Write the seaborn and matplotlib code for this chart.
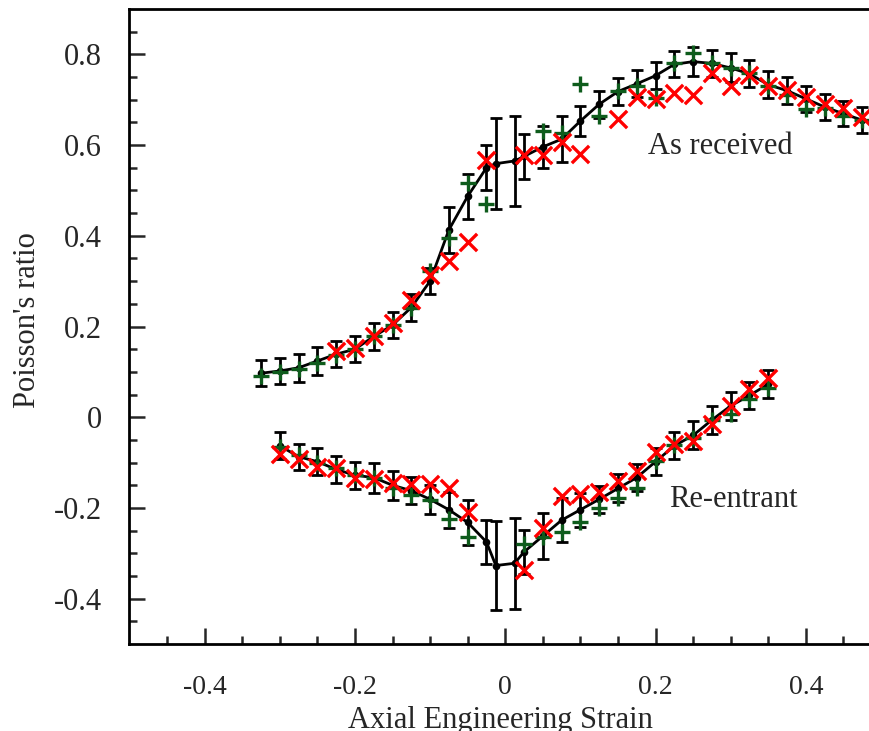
import numpy as np
import pandas as pd
import matplotlib
matplotlib.use('Agg')
import matplotlib.pyplot as plt
import seaborn as sns

# ---- As received ----
ar_x = [-0.325, -0.3, -0.275, -0.25, -0.225, -0.2, -0.175, -0.15, -0.125, -0.1, -0.075, -0.05,
        -0.025, -0.0125, 0.0125, 0.025, 0.05, 0.075, 0.1, 0.125, 0.15, 0.175, 0.2, 0.225, 0.25,
        0.275, 0.3, 0.325, 0.35, 0.375, 0.4, 0.425, 0.45, 0.475]
ar_mean = [0.097, 0.102, 0.109, 0.124, 0.139, 0.150, 0.178, 0.203, 0.242, 0.300, 0.413, 0.487,
           0.550, 0.559, 0.565, 0.575, 0.596, 0.613, 0.653, 0.690, 0.718, 0.735, 0.753, 0.778, 0.784,
           0.780, 0.770, 0.757, 0.733, 0.720, 0.702, 0.684, 0.669, 0.655]
ar_err = [0.029, 0.029, 0.031, 0.030, 0.029, 0.029, 0.029, 0.029, 0.029, 0.029, 0.050, 0.050,
          0.050, 0.100, 0.100, 0.050, 0.047, 0.051, 0.033, 0.030, 0.030, 0.030, 0.030, 0.029, 0.032,
          0.030, 0.032, 0.030, 0.030, 0.030, 0.029, 0.029, 0.028, 0.029]

ar_gx = [-0.325, -0.3, -0.275, -0.25, -0.225, -0.2, -0.175, -0.15, -0.125, -0.1, -0.075, -0.05,
         -0.025, 0.05, 0.075, 0.1, 0.125, 0.15, 0.175, 0.2, 0.225, 0.25, 0.275, 0.3, 0.325,
         0.35, 0.375, 0.4, 0.425, 0.45, 0.475]
ar_gy = [0.091, 0.100, 0.107, 0.120, 0.137, 0.150, 0.178, 0.203, 0.240, 0.322, 0.396, 0.517,
         0.471, 0.632, 0.626, 0.735, 0.664, 0.719, 0.730, 0.704, 0.781, 0.803, 0.780, 0.770, 0.758,
         0.731, 0.711, 0.680, 0.682, 0.665, 0.656]

ar_rx = [-0.225, -0.2, -0.175, -0.15, -0.125, -0.1, -0.075, -0.05, -0.025, 0.025, 0.05, 0.075,
         0.1, 0.15, 0.175, 0.2, 0.225, 0.25, 0.275, 0.3, 0.325, 0.35, 0.375, 0.4, 0.425, 0.45, 0.475]
ar_ry = [0.147, 0.152, 0.178, 0.207, 0.258, 0.313, 0.344, 0.386, 0.567, 0.579, 0.577, 0.607,
         0.581, 0.658, 0.706, 0.701, 0.715, 0.711, 0.759, 0.731, 0.755, 0.731, 0.722, 0.706, 0.691,
         0.682, 0.662]

# ---- Re-entrant ----
re_x = [-0.3, -0.275, -0.25, -0.225, -0.2, -0.175, -0.15, -0.125, -0.1, -0.075, -0.05, -0.025,
        -0.0125, 0.0125, 0.025, 0.05, 0.075, 0.1, 0.125, 0.15, 0.175, 0.2, 0.225, 0.25, 0.275,
        0.3, 0.325, 0.35]
re_mean = [-0.063, -0.087, -0.098, -0.115, -0.128, -0.133, -0.150, -0.162, -0.181, -0.204, -0.232,
           -0.275, -0.327, -0.322, -0.297, -0.262, -0.227, -0.204, -0.181, -0.157, -0.133, -0.098,
           -0.063, -0.040, -0.006, 0.025, 0.048, 0.073]
re_err = [0.030, 0.029, 0.030, 0.029, 0.030, 0.033, 0.032, 0.030, 0.032, 0.040, 0.050, 0.049,
          0.099, 0.100, 0.048, 0.050, 0.048, 0.037, 0.030, 0.031, 0.029, 0.030, 0.030, 0.031,
          0.030, 0.031, 0.029, 0.030]

re_gx = [-0.3, -0.275, -0.25, -0.225, -0.2, -0.175, -0.15, -0.125, -0.1, -0.075, -0.05, 0.025,
         0.05, 0.075, 0.1, 0.125, 0.15, 0.175, 0.2, 0.225, 0.25, 0.275, 0.3, 0.325, 0.35]
re_gy = [-0.066, -0.083, -0.100, -0.112, -0.128, -0.135, -0.155, -0.172, -0.183, -0.225, -0.265,
         -0.280, -0.265, -0.253, -0.232, -0.201, -0.177, -0.155, -0.096, -0.062, -0.045, -0.006,
         0.007, 0.041, 0.065]

re_rx = [-0.3, -0.275, -0.25, -0.225, -0.2, -0.175, -0.15, -0.125, -0.1, -0.075, -0.05, 0.025,
         0.05, 0.075, 0.1, 0.125, 0.15, 0.175, 0.2, 0.225, 0.25, 0.275, 0.3, 0.325, 0.35]
re_ry = [-0.081, -0.092, -0.109, -0.111, -0.133, -0.137, -0.145, -0.148, -0.148, -0.157, -0.210,
         -0.336, -0.245, -0.173, -0.170, -0.164, -0.140, -0.118, -0.076, -0.059, -0.052, -0.015,
         0.025, 0.062, 0.087]

sns.set_style('ticks')
plt.rcParams['font.family'] = ['Liberation Serif', 'DejaVu Serif']
plt.rcParams['font.size'] = 22
plt.rcParams['xtick.direction'] = 'in'
plt.rcParams['ytick.direction'] = 'in'

green = '#0e5c1c'
red = '#ff0000'

fig = plt.figure(figsize=(8.69, 7.31), dpi=100)
# axes runs slightly past the right edge, like the cropped original
ax = fig.add_axes([0.149, 0.119, 0.8648, 0.8687])

for xs, m, e in [(ar_x, ar_mean, ar_err), (re_x, re_mean, re_err)]:
    ax.errorbar(xs, m, yerr=e, fmt='none', ecolor='black', elinewidth=2,
                capsize=4, capthick=2, zorder=2)
    df = pd.DataFrame({'x': xs, 'y': m})
    sns.lineplot(data=df, x='x', y='y', ax=ax, color='black', lw=2, marker='o',
                 markersize=5.5, markeredgewidth=0, sort=False, zorder=3)

for xs, ys in [(ar_gx, ar_gy), (re_gx, re_gy)]:
    sns.scatterplot(x=xs, y=ys, ax=ax, marker='+', s=125, color=green, linewidth=2.4, zorder=4)
for xs, ys in [(ar_rx, ar_ry), (re_rx, re_ry)]:
    sns.scatterplot(x=xs, y=ys, ax=ax, marker='x', s=155, color=red, linewidth=2.4, zorder=5)

ax.text(0.286, 0.596, 'As received', ha='center', va='center', fontsize=22)
ax.text(0.303, -0.181, 'Re-entrant', ha='center', va='center', fontsize=22)

ax.set_xlim(-0.5, 0.5)
ax.set_ylim(-0.5, 0.9)
ax.set_xticks([-0.4, -0.2, 0, 0.2, 0.4])
ax.set_xticklabels(['-0.4', '-0.2', '0', '0.2', '0.4'])
ax.set_yticks([-0.4, -0.2, 0, 0.2, 0.4, 0.6, 0.8])
ax.set_yticklabels(['-0.4', '-0.2', '0', '0.2', '0.4', '0.6', '0.8'])
ax.set_xticks(np.arange(-0.45, 0.5, 0.05), minor=True)
ax.set_yticks(np.arange(-0.45, 0.9, 0.05), minor=True)
ax.tick_params(which='major', direction='in', length=11.5, width=1.8)
ax.tick_params(axis='y', which='major', pad=20, labelsize=22)
ax.tick_params(axis='x', which='major', pad=22, labelsize=20)
ax.tick_params(which='minor', direction='in', length=5.6, width=1.8)
ax.tick_params(top=False, right=False, which='both')
for s in ax.spines.values():
    s.set_linewidth(2)
    s.set_color('black')

ax.set_xlabel('Axial Engineering Strain', fontsize=22)
ax.set_ylabel("Poisson's ratio", fontsize=22)
ax.xaxis.set_label_coords(0.493, -0.097)
ax.xaxis.label.set_va('top')
ax.yaxis.set_label_coords(-0.116, 0.51)

fig.savefig('out.png', dpi=100)
